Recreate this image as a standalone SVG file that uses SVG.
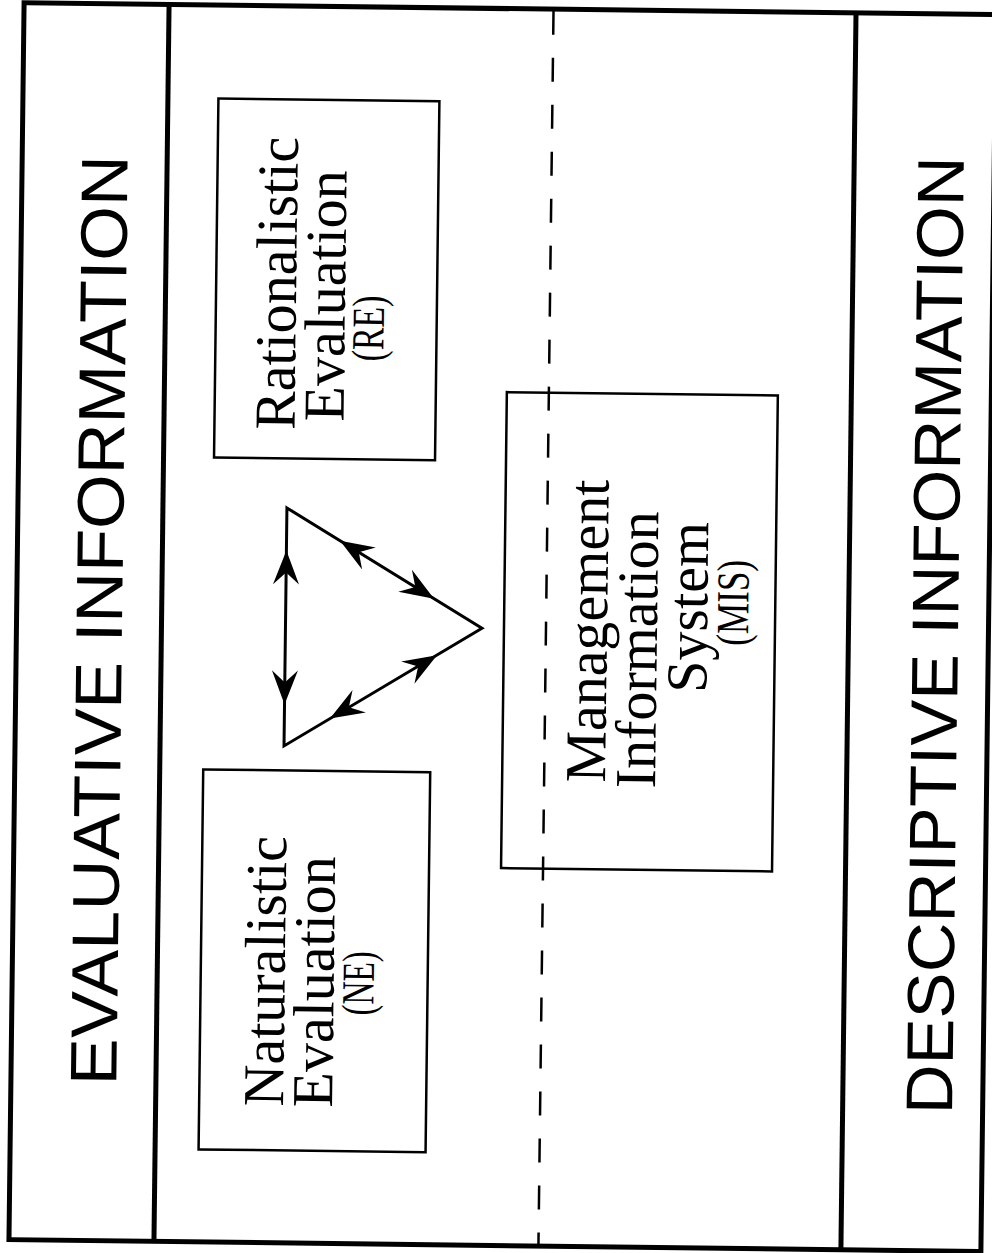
<svg xmlns="http://www.w3.org/2000/svg" width="992" height="1253" viewBox="0 0 992 1253">
  <style>
    .frame { fill: none; stroke: #000; stroke-width: 5; }
    .rule { stroke: #000; stroke-width: 5; }
    .dash { stroke: #000; stroke-width: 2.5; stroke-dasharray: 24 23; }
    .box { fill: none; stroke: #000; stroke-width: 2.5; }
    .edge { fill: none; stroke: #000; stroke-width: 3; }
    .hdr { font-family: "Liberation Sans", Arial, sans-serif; font-size: 66px; fill: #000; }
    .lbl { font-family: "Liberation Serif", "Times New Roman", serif; font-size: 58px; fill: #000; }
    .abbr { font-family: "Liberation Serif", "Times New Roman", serif; font-size: 46px; fill: #000; }
  </style>
  <defs>
    <!-- barbed arrowhead, tip at origin pointing along +x -->
    <path id="head" d="M0,0 L-34,-13 L-22,0 L-34,13 Z" fill="#000"/>
  </defs>
  <rect width="992" height="1253" fill="#fff"/>
  <g transform="rotate(0.7 496 626)">
    <!-- page frame and column rules -->
    <g id="frame">
      <rect class="frame" x="16.5" y="8.5" width="972" height="1237"/>
      <line class="rule" x1="161.5" y1="8.5" x2="161.5" y2="1245.5"/>
      <line class="rule" x1="848.5" y1="8.5" x2="848.5" y2="1245.5"/>
      <line class="dash" x1="546" y1="10" x2="546" y2="1245"/>
    </g>
    <g id="evaluative-header">
      <text class="hdr" transform="translate(122 625) rotate(-90)" text-anchor="middle" textLength="930" lengthAdjust="spacingAndGlyphs">EVALUATIVE INFORMATION</text>
    </g>
    <g id="descriptive-header">
      <text class="hdr" transform="translate(958 630) rotate(-90)" text-anchor="middle" textLength="958" lengthAdjust="spacingAndGlyphs">DESCRIPTIVE INFORMATION</text>
    </g>
    <g id="re">
      <rect class="box" x="212" y="102" width="221" height="359"/>
      <text class="lbl" transform="translate(292 286) rotate(-90)" text-anchor="middle">Rationalistic</text>
      <text class="lbl" transform="translate(341 298) rotate(-90)" text-anchor="middle">Evaluation</text>
      <text class="abbr" transform="translate(380 330) rotate(-90)" text-anchor="middle" textLength="66" lengthAdjust="spacingAndGlyphs">(RE)</text>
    </g>
    <g id="ne">
      <rect class="box" x="205" y="773" width="227" height="380"/>
      <text class="lbl" transform="translate(289 974) rotate(-90)" text-anchor="middle">Naturalistic</text>
      <text class="lbl" transform="translate(338 984) rotate(-90)" text-anchor="middle">Evaluation</text>
      <text class="abbr" transform="translate(378 985) rotate(-90)" text-anchor="middle" textLength="64" lengthAdjust="spacingAndGlyphs">(NE)</text>
    </g>
    <g id="mis">
      <rect class="box" x="504" y="392" width="271" height="476"/>
      <text class="lbl" transform="translate(607 630) rotate(-90)" text-anchor="middle">Management</text>
      <text class="lbl" transform="translate(657 648) rotate(-90)" text-anchor="middle">Information</text>
      <text class="lbl" transform="translate(707 605) rotate(-90)" text-anchor="middle">System</text>
      <text class="abbr" transform="translate(748 600) rotate(-90)" text-anchor="middle" textLength="86" lengthAdjust="spacingAndGlyphs">(MIS)</text>
    </g>
    <!-- two-way links between the three information sources -->
    <g id="connectors">
      <path class="edge" d="M285.5,510.5 L482,628.5 L285.5,748.5 Z"/>
      <use href="#head" transform="translate(285.5 553) rotate(-90)"/>
      <use href="#head" transform="translate(285.5 707) rotate(90)"/>
      <use href="#head" transform="translate(339 542.6) rotate(211)"/>
      <use href="#head" transform="translate(433.7 599.4) rotate(31)"/>
      <use href="#head" transform="translate(437.4 656) rotate(-31.4)"/>
      <use href="#head" transform="translate(331.1 720.6) rotate(148.6)"/>
    </g>
  </g>
</svg>
